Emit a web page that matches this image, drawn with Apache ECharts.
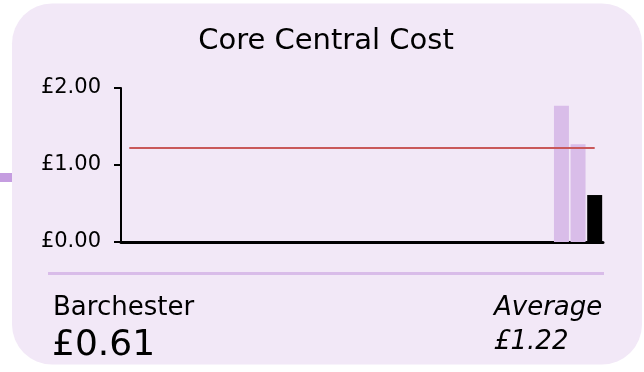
<!DOCTYPE html>
<html>
<head>
<meta charset="utf-8">
<script src="https://cdn.jsdelivr.net/npm/echarts@6/dist/echarts.min.js"></script>
<style>
	html, body { margin: 0; padding: 0; background: #fff; }
	#chart { width: 644px; height: 372px; }
</style>
</head>
<body>
<div id="chart"></div>
<script>
// areas along the x axis, only the last three carry a value
var categories = ['A01','A02','A03','A04','A05','A06','A07','A08','A09','A10',
	'A11','A12','A13','A14','A15','A16','A17','A18','A19','A20',
	'A21','A22','A23','A24','A25','A26','Peer 1','Peer 2','Barchester'];
var costValues = [null,null,null,null,null,null,null,null,null,null,
	null,null,null,null,null,null,null,null,null,null,
	null,null,null,null,null,null,1.77,1.27,0.61];
var averageValue = 1.22;
var yTicks = [0, 1, 2];
var areaName = 'Barchester';
var areaValue = 0.61;

(function(){
	var font = 'DejaVu Sans';
	var barData = [];
	for (var i = 0; i < costValues.length; i++) {
		barData.push({
			value: costValues[i],
			itemStyle: { color: categories[i] === areaName ? '#000000' : '#d9bde9' }
		});
	}
	var chart = echarts.init(document.getElementById('chart')),
	option = {
		backgroundColor: '#ffffff',
		animation: false,
		grid: { left: 121, right: 41, top: 88, bottom: 130 },
		graphic: [
			{ type: 'rect', z: -10, shape: { x: 0, y: 173, width: 13, height: 9 }, style: { fill: '#c59de0' } },
			{ type: 'rect', z: -10, shape: { x: 12, y: 3.5, width: 630, height: 361, r: 40 }, style: { fill: '#f2e8f7' } },
			{ type: 'line', z: -5, shape: { x1: 48, y1: 273.5, x2: 604, y2: 273.5 }, style: { stroke: '#d9bce9', lineWidth: 3 } },
			{ type: 'text', x: 326, y: 41, style: { text: 'Core Central Cost', font: '29px "' + font + '"', fill: '#000', align: 'center', verticalAlign: 'middle' } },
			{ type: 'text', x: 53, y: 308, style: { text: areaName, font: '26px "' + font + '"', fill: '#000', align: 'left', verticalAlign: 'middle' } },
			{ type: 'text', x: 52, y: 346, style: { text: '£' + areaValue.toFixed(2), font: '36px "' + font + '"', fill: '#000', align: 'left', verticalAlign: 'middle' } },
			{ type: 'text', x: 494, y: 308, style: { text: 'Average', font: 'italic 26px "' + font + '"', fill: '#000', align: 'left', verticalAlign: 'middle' } },
			{ type: 'text', x: 494, y: 342, style: { text: '£' + averageValue.toFixed(2), font: 'italic 26px "' + font + '"', fill: '#000', align: 'left', verticalAlign: 'middle' } }
		],
		xAxis: {
			type: 'category',
			data: categories,
			axisLine: { lineStyle: { color: '#000', width: 3 } },
			axisTick: { show: false },
			axisLabel: { show: false }
		},
		yAxis: {
			type: 'value',
			min: yTicks[0],
			max: yTicks[yTicks.length - 1],
			interval: 1,
			axisLine: { show: true, lineStyle: { color: '#000', width: 2 } },
			axisTick: { show: true, length: 7, lineStyle: { color: '#000', width: 2 } },
			splitLine: { show: false },
			axisLabel: {
				margin: 20,
				color: '#000',
				fontFamily: font,
				fontSize: 21,
				formatter: function(v){ return '£' + v.toFixed(2); }
			}
		},
		series: [{
			type: 'bar',
			data: barData,
			barCategoryGap: '10%',
			markLine: {
				silent: true,
				symbol: 'none',
				label: { show: false },
				lineStyle: { color: '#c9585a', width: 2, type: 'solid' },
				data: [[
					{ coord: [categories[0], averageValue] },
					{ coord: [categories[categories.length - 1], averageValue] }
				]]
			}
		}]
	};
	chart.setOption(option);
})();
</script>
</body>
</html>
